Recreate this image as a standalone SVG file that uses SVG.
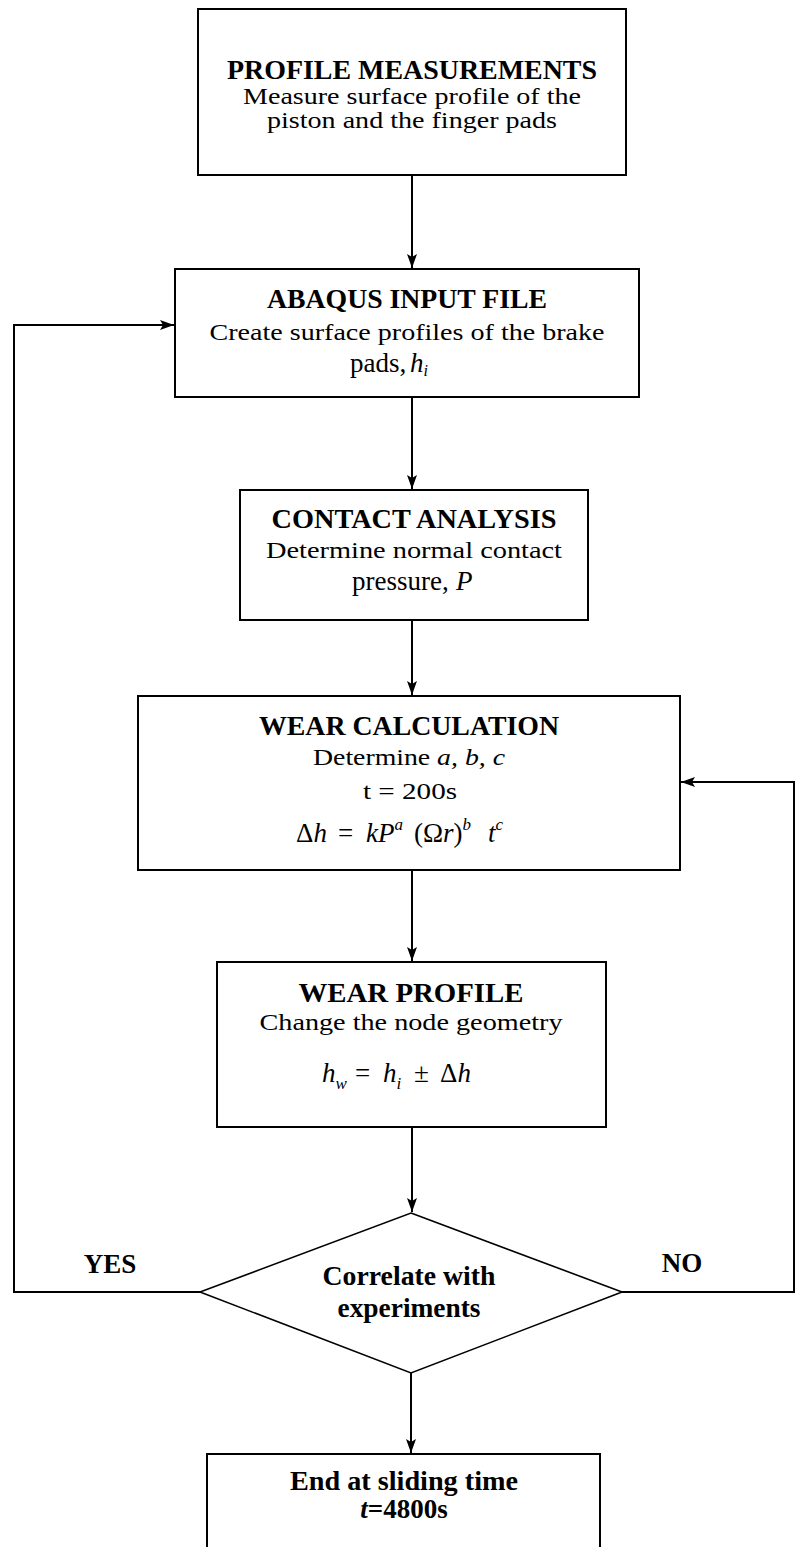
<svg xmlns="http://www.w3.org/2000/svg" width="795" height="1547" viewBox="0 0 795 1547">
<style>
.box{fill:#fff;stroke:#000;stroke-width:2}
.dia{fill:#fff;stroke:#000;stroke-width:1.6}
.c{fill:none;stroke:#000;stroke-width:2}
.h{font-family:"Liberation Serif",serif;font-weight:bold;font-size:27px;text-anchor:middle;fill:#000}
.t{font-family:"Liberation Serif",serif;font-size:24px;text-anchor:middle;fill:#000}
.f{font-family:"Liberation Serif",serif;font-size:27px;fill:#000}
.i{font-style:italic}
</style>
<defs>
<marker id="ah" markerUnits="userSpaceOnUse" markerWidth="14" markerHeight="10" refX="14" refY="5" orient="auto">
<path d="M0,0 L14,5 L0,10 L3,5 Z" fill="#000"/>
</marker>
</defs>
<rect width="795" height="1547" fill="#fff"/>
<g id="connectors">
<path class="c" d="M412,175 V268" marker-end="url(#ah)"/>
<path class="c" d="M412,397 V489" marker-end="url(#ah)"/>
<path class="c" d="M412,620 V695" marker-end="url(#ah)"/>
<path class="c" d="M412,870 V961" marker-end="url(#ah)"/>
<path class="c" d="M412,1127 V1212" marker-end="url(#ah)"/>
<path class="c" d="M411,1373 V1453" marker-end="url(#ah)"/>
<path class="c" d="M200,1292 H14 V325 H174" marker-end="url(#ah)"/>
<path class="c" d="M622,1292 H794 V782 H681" marker-end="url(#ah)"/>
</g>
<g id="profile-measurements">
<rect class="box" x="198" y="9" width="428" height="166"/>
<text class="h" x="412" y="79" textLength="370" lengthAdjust="spacingAndGlyphs">PROFILE MEASUREMENTS</text>
<text class="t" x="412" y="104" font-size="21" textLength="338" lengthAdjust="spacingAndGlyphs">Measure surface profile of the</text>
<text class="t" x="412" y="128" font-size="21" textLength="290" lengthAdjust="spacingAndGlyphs">piston and the finger pads</text>
</g>
<g id="abaqus-input">
<rect class="box" x="175" y="269" width="464" height="128"/>
<text class="h" x="407" y="308" textLength="280" lengthAdjust="spacingAndGlyphs">ABAQUS INPUT FILE</text>
<text class="t" x="407" y="340" textLength="395" lengthAdjust="spacingAndGlyphs">Create surface profiles of the brake</text>
<text class="f" y="372" font-size="25"><tspan x="350">pads,</tspan><tspan class="i" x="410">h</tspan><tspan class="i" font-size="16" dy="4">i</tspan></text>
</g>
<g id="contact-analysis">
<rect class="box" x="240" y="490" width="348" height="130"/>
<text class="h" x="414" y="528" textLength="285" lengthAdjust="spacingAndGlyphs">CONTACT ANALYSIS</text>
<text class="t" x="414" y="558" textLength="296" lengthAdjust="spacingAndGlyphs">Determine normal contact</text>
<text class="f" y="590" font-size="25"><tspan x="352">pressure,</tspan><tspan class="i" x="456">P</tspan></text>
</g>
<g id="wear-calculation">
<rect class="box" x="138" y="696" width="542" height="174"/>
<text class="h" x="409" y="735" textLength="300" lengthAdjust="spacingAndGlyphs">WEAR CALCULATION</text>
<text class="t" x="409" y="765" textLength="192" lengthAdjust="spacingAndGlyphs">Determine <tspan class="i">a, b, c</tspan></text>
<text class="t" x="410" y="799" textLength="94" lengthAdjust="spacingAndGlyphs">t = 200s</text>
<text class="f" y="842"><tspan x="296">Δ</tspan><tspan class="i">h</tspan><tspan x="338">=</tspan><tspan class="i" x="366">kP</tspan><tspan class="i" font-size="17" dy="-12">a</tspan><tspan x="414" dy="12">(Ω</tspan><tspan class="i">r</tspan><tspan>)</tspan><tspan class="i" font-size="17" dy="-12">b</tspan><tspan class="i" x="488" dy="12">t</tspan><tspan class="i" font-size="17" dy="-12">c</tspan></text>
</g>
<g id="wear-profile">
<rect class="box" x="217" y="962" width="389" height="165"/>
<text class="h" x="411" y="1002" textLength="225" lengthAdjust="spacingAndGlyphs">WEAR PROFILE</text>
<text class="t" x="411" y="1030" textLength="303" lengthAdjust="spacingAndGlyphs">Change the node geometry</text>
<text class="f" y="1082" font-size="28"><tspan class="i" x="322">h</tspan><tspan class="i" font-size="17" dy="7">w</tspan><tspan x="355" dy="-7">=</tspan><tspan class="i" x="383">h</tspan><tspan class="i" font-size="17" dy="7">i</tspan><tspan x="414" dy="-7">±</tspan><tspan x="440">Δ</tspan><tspan class="i">h</tspan></text>
</g>
<g id="correlate">
<polygon class="dia" points="411,1213 622,1292 411,1373 200,1292"/>
<text class="h" x="409" y="1285" font-size="25" textLength="173" lengthAdjust="spacingAndGlyphs">Correlate with</text>
<text class="h" x="409" y="1317" font-size="25" textLength="143" lengthAdjust="spacingAndGlyphs">experiments</text>
</g>
<g id="labels">
<text class="h" x="110" y="1273" font-size="25">YES</text>
<text class="h" x="682" y="1272" font-size="25">NO</text>
</g>
<g id="end">
<rect class="box" x="207" y="1454" width="393" height="110"/>
<text class="h" x="404" y="1490" font-size="26" textLength="228" lengthAdjust="spacingAndGlyphs">End at sliding time</text>
<text class="h" x="404" y="1518" font-size="26"><tspan class="i">t</tspan>=4800s</text>
</g>
</svg>
